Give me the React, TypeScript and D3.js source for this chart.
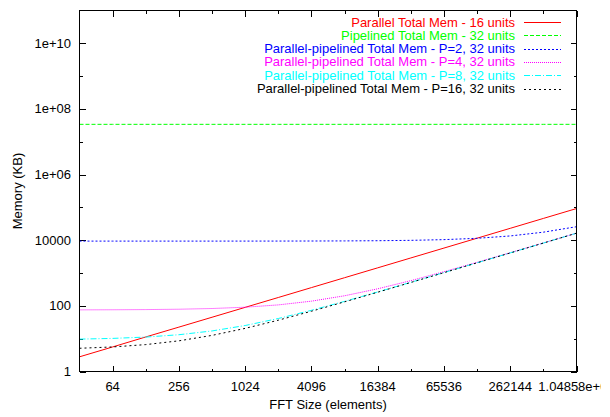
import React, { useEffect, useRef } from 'react';
import * as d3 from 'd3';

// FFT sizes (elements), one point per power of two
const fftSizes = [32, 64, 128, 256, 512, 1024, 2048, 4096, 8192, 16384, 32768, 65536, 131072, 262144, 524288, 1048576];

// memory in KB
const parallel16 = [2.8, 5.6, 11.3, 22.5, 45, 90, 180, 360, 721, 1442, 2884, 5767, 11534, 23069, 46137, 92275];
const pipelined32 = [3.4e7, 3.4e7, 3.4e7, 3.4e7, 3.4e7, 3.4e7, 3.4e7, 3.4e7, 3.4e7, 3.4e7, 3.4e7, 3.4e7, 3.4e7, 3.4e7, 3.4e7, 3.4e7];
const parPipeP2 = [9400, 9401, 9402, 9404, 9408, 9416, 9432, 9464, 9528, 9656, 9912, 10424, 11448, 13496, 17592, 25784];
const parPipeP4 = [75.5, 76, 77, 79, 83, 91, 107, 139, 203, 331, 587, 1099, 2123, 4171, 8267, 16459];
const parPipeP8 = [9.7, 10.2, 11.2, 13.2, 17.2, 25.2, 41.2, 73.2, 137, 265, 521, 1033, 2057, 4105, 8201, 16393];
const parPipeP16 = [5.1, 5.6, 6.6, 8.6, 12.6, 20.6, 36.6, 68.6, 132.6, 260.6, 516.6, 1028.6, 2052.6, 4100.6, 8196.6, 16388.6];

const seriesNames = [
  'Parallel Total Mem - 16 units',
  'Pipelined Total Mem - 32 units',
  'Parallel-pipelined Total Mem - P=2, 32 units',
  'Parallel-pipelined Total Mem - P=4, 32 units',
  'Parallel-pipelined Total Mem - P=8, 32 units',
  'Parallel-pipelined Total Mem - P=16, 32 units',
];
const seriesValues = [parallel16, pipelined32, parPipeP2, parPipeP4, parPipeP8, parPipeP16];
const seriesColors = ['#ff0000', '#00ff00', '#0000ff', '#ff00ff', '#00ffff', '#000000'];
const seriesDashes = ['none', '4,2', '2,2', '1,1', '6,2,1,2', '2,3'];

const yMajorTicks = [1, 100, 1e4, 1e6, 1e8, 1e10];
const yTickLabels = ['1', '100', '10000', '1e+06', '1e+08', '1e+10'];
const yMinorTicks = [10, 1000, 1e5, 1e7, 1e9];
const xMajorTicks = [64, 256, 1024, 4096, 16384, 65536, 262144, 1048576];
const xTickLabels = ['64', '256', '1024', '4096', '16384', '65536', '262144', '1.04858e+06'];
const xMinorTicks = [128, 512, 2048, 8192, 32768, 131072, 524288];

const App = () => {
  const svgRef = useRef<SVGSVGElement>(null);

  useEffect(() => {
    const width = 610;
    const height = 417;
    const left = 79.5, right = 576.5, top = 10.5, bottom = 371.5;
    const font = '"Liberation Sans", Arial, sans-serif';

    const svg = d3.select(svgRef.current);
    svg.selectAll('*').remove();
    svg.attr('width', width).attr('height', height);

    const x = d3.scaleLog().base(2).domain([32, 1048576]).range([left, right]);
    const y = d3.scaleLog().domain([1, 1e11]).range([bottom, top]);

    const defs = svg.append('defs');
    defs.append('clipPath').attr('id', 'plot-clip')
      .append('rect').attr('x', left).attr('y', top).attr('width', right - left).attr('height', bottom - top);
    defs.append('clipPath').attr('id', 'canvas-clip')
      .append('rect').attr('x', 0).attr('y', 0).attr('width', 601).attr('height', height);

    // tics, mirrored on all four sides
    const tickGroup = svg.append('g').attr('stroke', '#000').attr('stroke-width', 1).attr('shape-rendering', 'crispEdges');
    const yTick = (v: number, len: number) => {
      const yy = Math.round(y(v)) + 0.5;
      tickGroup.append('line').attr('x1', left).attr('x2', left + len).attr('y1', yy).attr('y2', yy);
      tickGroup.append('line').attr('x1', right).attr('x2', right - len).attr('y1', yy).attr('y2', yy);
    };
    const xTick = (v: number, len: number) => {
      const xx = Math.round(x(v)) + 0.5;
      tickGroup.append('line').attr('x1', xx).attr('x2', xx).attr('y1', bottom).attr('y2', bottom - len);
      tickGroup.append('line').attr('x1', xx).attr('x2', xx).attr('y1', top).attr('y2', top + len);
    };
    yMajorTicks.forEach((v) => yTick(v, 6));
    yMinorTicks.forEach((v) => yTick(v, 3));
    xMajorTicks.forEach((v) => xTick(v, 6));
    xMinorTicks.forEach((v) => xTick(v, 3));

    // tick labels
    const labels = svg.append('g').attr('font-family', font).attr('font-size', 13).attr('fill', '#000');
    yMajorTicks.forEach((v, i) => {
      labels.append('text').attr('x', 71).attr('y', y(v) + 4.5).attr('text-anchor', 'end').text(yTickLabels[i]);
    });
    const xLabels = labels.append('g').attr('clip-path', 'url(#canvas-clip)');
    xMajorTicks.forEach((v, i) => {
      xLabels.append('text').attr('x', x(v)).attr('y', 391).attr('text-anchor', 'middle').text(xTickLabels[i]);
    });

    // axis titles
    labels.append('text').attr('x', 328).attr('y', 409).attr('text-anchor', 'middle').text('FFT Size (elements)');
    labels.append('text')
      .attr('transform', `translate(22,${(top + bottom) / 2}) rotate(-90)`)
      .attr('text-anchor', 'middle').text('Memory (KB)');

    // series lines
    const line = d3.line<[number, number]>().x((d) => x(d[0])).y((d) => y(d[1]));
    const plot = svg.append('g').attr('clip-path', 'url(#plot-clip)');
    seriesValues.forEach((vals, i) => {
      plot.append('path')
        .datum(fftSizes.map((n, j) => [n, vals[j]] as [number, number]))
        .attr('d', line)
        .attr('fill', 'none')
        .attr('stroke', seriesColors[i])
        .attr('stroke-width', 1)
        .attr('stroke-dasharray', seriesDashes[i]);
    });

    // key
    const key = svg.append('g').attr('font-family', font).attr('font-size', 13);
    seriesNames.forEach((name, i) => {
      const ky = 22 + i * 13.3;
      const ly = Math.round(ky) + 0.5;
      key.append('text').attr('x', 515).attr('y', ky + 4.5).attr('text-anchor', 'end')
        .attr('fill', seriesColors[i]).text(name);
      key.append('path')
        .attr('d', `M524,${ly}H561`)
        .attr('fill', 'none')
        .attr('shape-rendering', 'crispEdges')
        .style('stroke', seriesColors[i])
        .style('stroke-width', 1)
        .style('stroke-dasharray', seriesDashes[i]);
    });

    // border
    svg.append('rect')
      .attr('x', left).attr('y', top).attr('width', right - left).attr('height', bottom - top)
      .attr('fill', 'none').attr('stroke', '#000').attr('stroke-width', 1).attr('shape-rendering', 'crispEdges');
  }, []);

  return (
    <div style={{ position: 'absolute', left: 0, top: 0, background: '#fff' }}>
      <svg ref={svgRef} style={{ display: 'block' }} />
    </div>
  );
};

export default App;
